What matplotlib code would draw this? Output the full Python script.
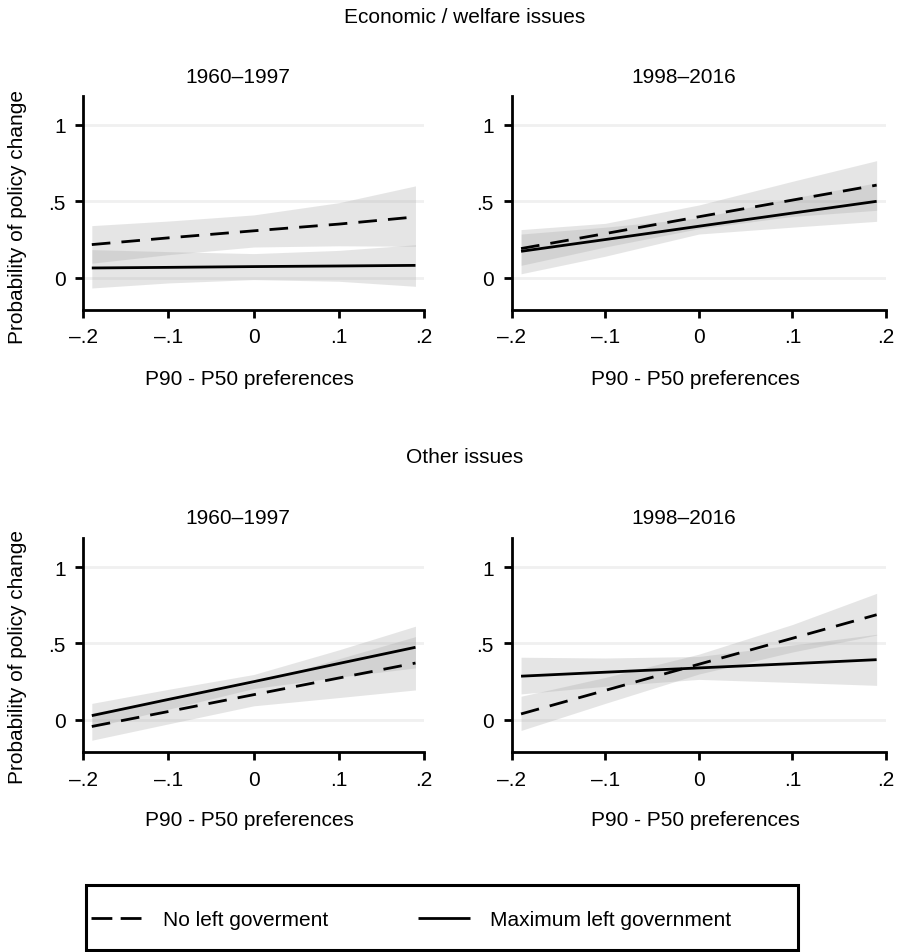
import matplotlib.pyplot as plt
from matplotlib.lines import Line2D
from matplotlib.patches import Rectangle

plt.rcParams['font.family'] = ['Liberation Sans', 'DejaVu Sans']
plt.rcParams['font.size'] = 15

# predicted probabilities at these preference gaps
gap = [-0.19, -0.1, 0.0, 0.1, 0.19]

# economic / welfare issues, 1960-1997
econ_early_noleft = [0.216, 0.26, 0.306, 0.35, 0.397]
econ_early_noleft_lo = [0.094, 0.15, 0.20, 0.208, 0.205]
econ_early_noleft_hi = [0.34, 0.37, 0.41, 0.49, 0.60]
econ_early_maxleft = [0.063, 0.067, 0.072, 0.076, 0.080]
econ_early_maxleft_lo = [-0.068, -0.035, -0.013, -0.024, -0.057]
econ_early_maxleft_hi = [0.183, 0.17, 0.157, 0.178, 0.215]

# economic / welfare issues, 1998-2016
econ_late_noleft = [0.19, 0.288, 0.398, 0.507, 0.605]
econ_late_noleft_lo = [0.08, 0.20, 0.32, 0.40, 0.44]
econ_late_noleft_hi = [0.314, 0.355, 0.475, 0.63, 0.765]
econ_late_maxleft = [0.172, 0.249, 0.336, 0.422, 0.499]
econ_late_maxleft_lo = [0.025, 0.14, 0.285, 0.33, 0.368]
econ_late_maxleft_hi = [0.285, 0.33, 0.39, 0.52, 0.62]

# other issues, 1960-1997
other_early_noleft = [-0.043, 0.055, 0.165, 0.274, 0.372]
other_early_noleft_lo = [-0.133, -0.026, 0.092, 0.146, 0.196]
other_early_noleft_hi = [0.045, 0.135, 0.24, 0.40, 0.545]
other_early_maxleft = [0.028, 0.134, 0.25, 0.369, 0.475]
other_early_maxleft_lo = [-0.05, 0.07, 0.205, 0.28, 0.34]
other_early_maxleft_hi = [0.108, 0.2, 0.297, 0.458, 0.613]

# other issues, 1998-2016
other_late_noleft = [0.039, 0.193, 0.364, 0.534, 0.688]
other_late_noleft_lo = [-0.069, 0.108, 0.30, 0.444, 0.555]
other_late_noleft_hi = [0.155, 0.278, 0.43, 0.624, 0.828]
other_late_maxleft = [0.286, 0.312, 0.34, 0.368, 0.394]
other_late_maxleft_lo = [0.17, 0.22, 0.265, 0.245, 0.226]
other_late_maxleft_hi = [0.41, 0.405, 0.415, 0.49, 0.56]

xticks = [-0.2, -0.1, 0, 0.1, 0.2]
xticklabels = ['\u2013.2', '\u2013.1', '0', '.1', '.2']
yticks = [0, 0.5, 1]
yticklabels = ['0', '.5', '1']

W, H = 900, 953
fig = plt.figure(figsize=(W / 100, H / 100), dpi=100)


def px_axes(left, top, right, bottom):
    return fig.add_axes([left / W, 1 - bottom / H, (right - left) / W, (bottom - top) / H])


def fig_text(x, y, s, **kw):
    fig.text(x / W, 1 - y / H, s, **kw)


panels = [
    ((83.3, 96.7, 424, 310.7), econ_early_noleft, econ_early_noleft_lo, econ_early_noleft_hi,
     econ_early_maxleft, econ_early_maxleft_lo, econ_early_maxleft_hi),
    ((511.7, 96.7, 886, 310.7), econ_late_noleft, econ_late_noleft_lo, econ_late_noleft_hi,
     econ_late_maxleft, econ_late_maxleft_lo, econ_late_maxleft_hi),
    ((83.3, 539, 424, 753), other_early_noleft, other_early_noleft_lo, other_early_noleft_hi,
     other_early_maxleft, other_early_maxleft_lo, other_early_maxleft_hi),
    ((511.7, 539, 886, 753), other_late_noleft, other_late_noleft_lo, other_late_noleft_hi,
     other_late_maxleft, other_late_maxleft_lo, other_late_maxleft_hi),
]

band = dict(color='#a4a4a4', alpha=0.28, lw=0, zorder=2)

for box, nl, nl_lo, nl_hi, ml, ml_lo, ml_hi in panels:
    ax = px_axes(*box)
    ax.fill_between(gap, nl_lo, nl_hi, **band)
    ax.fill_between(gap, ml_lo, ml_hi, **band)
    ax.plot(gap, nl, color='black', lw=2, dashes=(6.7, 4.0), dash_capstyle='butt', zorder=3)
    ax.plot(gap, ml, color='black', lw=2, solid_capstyle='butt', zorder=3)

    ax.set_xlim(-0.2, 0.2)
    ax.set_ylim(-0.21, 1.19)
    ax.set_xticks(xticks)
    ax.set_xticklabels(xticklabels)
    ax.set_yticks(yticks)
    ax.set_yticklabels(yticklabels)
    for y in yticks:
        ax.axhline(y, color='#f0f0f0', lw=2, zorder=1)
    for side in ('top', 'right'):
        ax.spines[side].set_visible(False)
    for side in ('left', 'bottom'):
        ax.spines[side].set_linewidth(2)
    ax.tick_params(axis='x', direction='out', length=5.8, width=2, pad=7)
    ax.tick_params(axis='y', direction='out', length=5.8, width=2, pad=7)

# row headings, panel titles and axis titles
fig_text(465, 22.7, 'Economic / welfare issues', ha='center', va='baseline')
fig_text(465, 463.5, 'Other issues', ha='center', va='baseline')
for row in (0, 441):
    fig_text(238, 83.3 + row, '1960\u20131997', ha='center', va='baseline')
    fig_text(684, 83.3 + row, '1998\u20132016', ha='center', va='baseline')
    fig_text(249, 385 + row, 'P90 - P50 preferences', ha='center', va='baseline')
    fig_text(695, 385 + row, 'P90 - P50 preferences', ha='center', va='baseline')
fig_text(17.5, 216.5, 'Probability of policy change', rotation=90, ha='center', va='center')
fig_text(17.5, 657, 'Probability of policy change', rotation=90, ha='center', va='center')

# legend with its own heavy frame
handles = [Line2D([], [], color='black', lw=2, dashes=(7.5, 3), dash_capstyle='butt'),
           Line2D([], [], color='black', lw=2, solid_capstyle='butt')]
fig.legend(handles, ['No left goverment', 'Maximum left government'], ncol=2,
           loc='center left', bbox_to_anchor=(91 / W, 1 - 921 / H), frameon=False,
           borderpad=0, borderaxespad=0, handlelength=2.5, handletextpad=0.96,
           columnspacing=4.3)
fig.patches.append(Rectangle((86 / W, 1 - 951 / H), 712 / W, 65 / H, transform=fig.transFigure,
                             fill=False, lw=2.2, ec='black'))

fig.savefig('out.png', dpi=100)
